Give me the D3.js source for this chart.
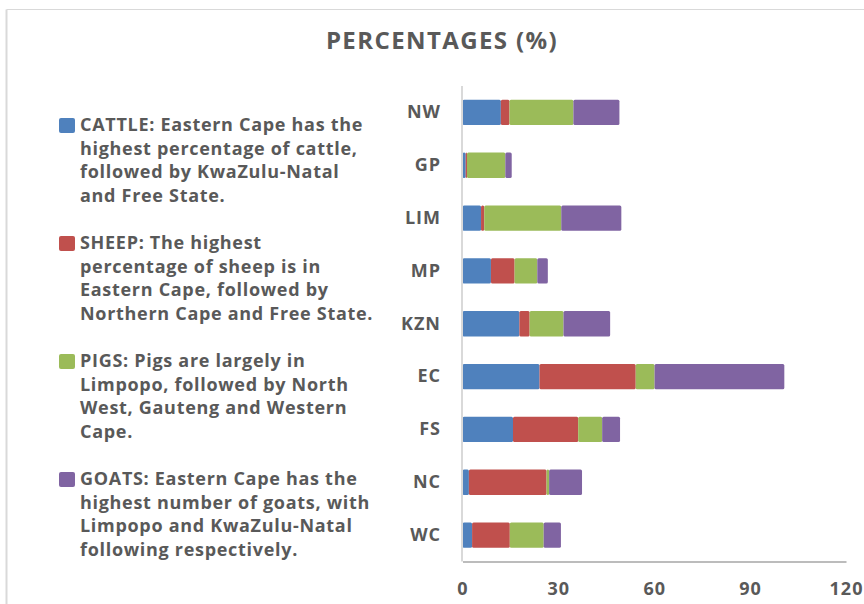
<!DOCTYPE html>
<html>
<head>
<meta charset="utf-8">
<script src="https://cdn.jsdelivr.net/npm/d3@7/dist/d3.min.js"></script>
<style>
  html, body { margin: 0; padding: 0; background: #fff; }
  svg { display: block; }
  text { font-family: "Open Sans", "DejaVu Sans", sans-serif; }
</style>
</head>
<body>
<svg id="chart" width="864" height="604"></svg>
<script>
// Data (top to bottom)
const provinces = ["NW", "GP", "LIM", "MP", "KZN", "EC", "FS", "NC", "WC"];
const seriesNames = ["CATTLE", "SHEEP", "PIGS", "GOATS"];
const cattle = [12.0, 1.0, 5.8, 8.9, 17.8, 24.1, 15.8, 2.0, 3.0];
const sheep  = [2.7, 0.4, 1.0, 7.4, 3.2, 30.1, 20.4, 24.3, 11.8];
const pigs   = [20.0, 12.0, 24.1, 7.1, 10.6, 5.9, 7.5, 0.8, 10.6];
const goats  = [14.4, 2.0, 18.8, 3.3, 14.6, 40.6, 5.6, 10.3, 5.4];
const xTicks = [0, 30, 60, 90, 120];
const colors = ["#4f81bd", "#c0504d", "#9bbb59", "#8064a2"];
const legendTexts = [
  ["CATTLE: Eastern Cape has the", "highest percentage of cattle,", "followed by KwaZulu-Natal", "and Free State."],
  ["SHEEP: The highest", "percentage of sheep is in", "Eastern Cape, followed by", "Northern Cape and Free State."],
  ["PIGS: Pigs are largely in", "Limpopo, followed by North", "West, Gauteng and Western", "Cape."],
  ["GOATS: Eastern Cape has the", "highest number of goats, with", "Limpopo and KwaZulu-Natal", "following respectively."]
];

(function () {
const svg = d3.select("#chart");
const textColor = "#595959";

// chart border (top & left visible)
svg.append("line").attr("x1", 6.5).attr("x2", 864).attr("y1", 9.5).attr("y2", 9.5)
  .attr("stroke", "#d9d9d9").attr("stroke-width", 1.2);
svg.append("line").attr("x1", 6.5).attr("x2", 6.5).attr("y1", 9.5).attr("y2", 604)
  .attr("stroke", "#d9d9d9").attr("stroke-width", 2);

// title
svg.append("text").attr("x", 442).attr("y", 49).attr("text-anchor", "middle")
  .attr("font-size", 24).attr("font-weight", "bold").attr("fill", textColor)
  .attr("letter-spacing", 1.4)
  .text("PERCENTAGES (%)");

const pLeft = 462.5, pRight = 846, pTop = 86, pBottom = 561.5;
const x = d3.scaleLinear().domain([0, 120]).range([pLeft, pRight]);
const y = d3.scaleBand().domain(provinces).range([pTop, pBottom]).paddingInner(0.52).paddingOuter(0.26);

const rows = provinces.map((p, i) => ({ prov: p, CATTLE: cattle[i], SHEEP: sheep[i], PIGS: pigs[i], GOATS: goats[i] }));
const stacked = d3.stack().keys(seriesNames)(rows);

const g = svg.append("g");
stacked.forEach((layer, si) => {
  g.selectAll(null).data(layer).enter().append("rect")
    .attr("x", d => x(d[0]))
    .attr("width", d => Math.max(0, x(d[1]) - x(d[0])))
    .attr("y", d => y(d.data.prov))
    .attr("height", y.bandwidth())
    .attr("fill", colors[si])
    .attr("rx", 1.5);
});

// category axis line
svg.append("line").attr("x1", pLeft - 0.5).attr("x2", pLeft - 0.5).attr("y1", pTop).attr("y2", pBottom)
  .attr("stroke", "#d9d9d9").attr("stroke-width", 2);

// x axis
const xAxis = d3.axisBottom(x).tickValues(xTicks).tickSize(0).tickPadding(0);
const xg = svg.append("g").attr("transform", `translate(0,${pBottom})`).call(xAxis);
xg.select(".domain").attr("stroke", "#a6a6a6").attr("stroke-width", 1.5);
xg.selectAll("text").attr("font-size", 18).attr("font-weight", "bold").attr("fill", textColor)
  .attr("letter-spacing", 1)
  .attr("font-family", "'Open Sans', sans-serif").attr("dy", null).attr("y", 33);

// y axis labels
const yAxis = d3.axisLeft(y).tickSize(0).tickPadding(0);
const yg = svg.append("g").attr("transform", `translate(441,0)`).call(yAxis);
yg.select(".domain").remove();
yg.selectAll("text").attr("font-size", 18).attr("font-weight", "bold").attr("fill", textColor)
  .attr("letter-spacing", 1)
  .attr("font-family", "'Open Sans', sans-serif");

// legend
const legendTop = [125, 243, 361, 479];
legendTexts.forEach((lines, i) => {
  const lg = svg.append("g");
  lg.append("rect").attr("x", 59).attr("y", legendTop[i] - 7).attr("width", 16).attr("height", 15)
    .attr("rx", 2).attr("fill", colors[i]);
  lines.forEach((t, j) => {
    lg.append("text").attr("x", 80).attr("y", legendTop[i] + 6 + j * 23.5)
      .attr("font-size", 18).attr("font-weight", "bold").attr("fill", textColor)
      .attr("letter-spacing", 0.7).text(t);
  });
});
})();
</script>
</body>
</html>
